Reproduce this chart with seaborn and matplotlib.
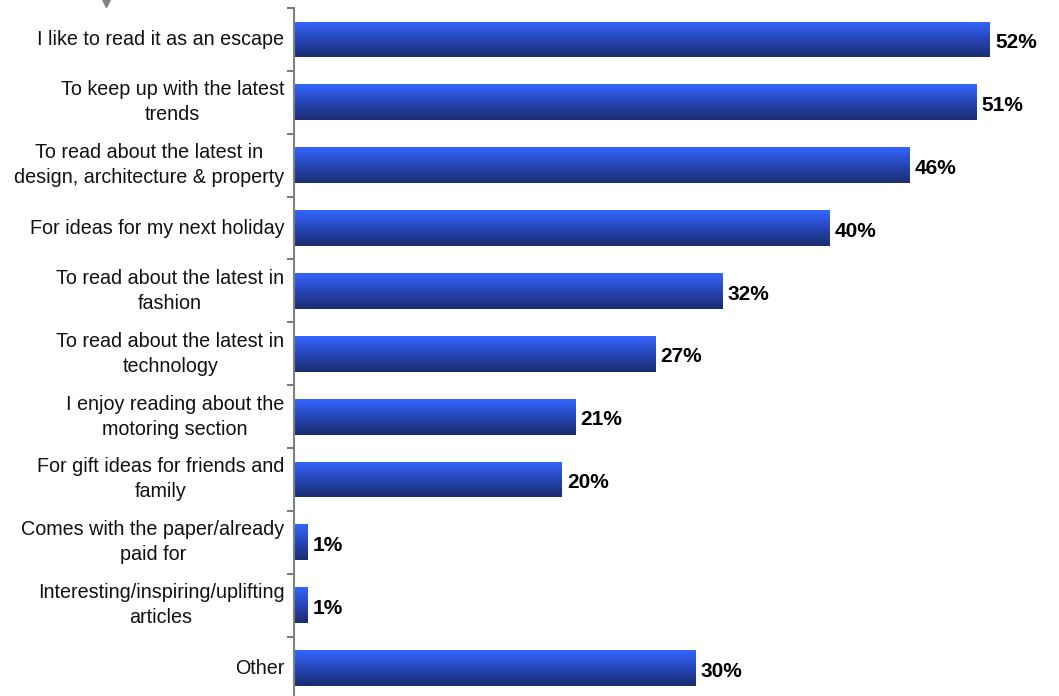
import numpy as np
import pandas as pd
import matplotlib
matplotlib.use("Agg")
import matplotlib.pyplot as plt
import seaborn as sns
from matplotlib.colors import LinearSegmentedColormap
from matplotlib.ticker import FixedLocator
from matplotlib.lines import Line2D

categories = [
    "I like to read it as an escape",
    "To keep up with the latest\ntrends",
    "To read about the latest in\ndesign, architecture & property",
    "For ideas for my next holiday",
    "To read about the latest in\nfashion",
    "To read about the latest in\ntechnology",
    "I enjoy reading about the\nmotoring section",
    "For gift ideas for friends and\nfamily",
    "Comes with the paper/already\npaid for",
    "Interesting/inspiring/uplifting\narticles",
    "Other",
]
values = [52, 51, 46, 40, 32, 27, 21, 20, 1, 1, 30]

df = pd.DataFrame({"reason": categories, "pct": values})

sns.set_theme(style="white")
plt.rcParams["font.family"] = ["Liberation Sans", "DejaVu Sans"]

fig = plt.figure(figsize=(10.59, 6.96), dpi=100)
ax = fig.add_axes([294 / 1059, -3.5 / 696, 803 / 1059, 691.5 / 696])

sns.barplot(data=df, x="pct", y="reason", order=categories, color="#3366ff",
            width=0.57, ax=ax, orient="h")

# vertical gradient fill inside each bar: bright blue on top, navy at the bottom
grad = LinearSegmentedColormap.from_list("bar", ["#1a2d70", "#2646b8", "#3366ff"])
g = np.linspace(0, 1, 256).reshape(-1, 1)
for patch in list(ax.patches):
    x0, y0 = patch.get_x(), patch.get_y()
    w, h = patch.get_width(), patch.get_height()
    im = ax.imshow(g, cmap=grad, aspect="auto", origin="lower",
                   extent=[x0, x0 + w, y0 + h, y0], zorder=patch.get_zorder() + 0.1,
                   interpolation="bilinear")
    im.set_clip_path(patch)
    patch.set_edgecolor("none")
ax.set_xlim(0, 60)
ax.set_ylim(len(categories) - 0.5, -0.5)

for i, v in enumerate(values):
    ax.text(v + 0.4, i + 0.05, f"{v}%", va="center", ha="left",
            fontsize=15, fontweight="bold", color="black")

ax.set_xlabel("")
ax.set_ylabel("")
ax.set_xticks([])

for side in ("top", "right", "bottom"):
    ax.spines[side].set_visible(False)
ax.spines["left"].set_color("#808080")
ax.spines["left"].set_linewidth(1.5)

ax.set_yticks(range(len(categories)))
ax.set_yticklabels(categories, multialignment="center", linespacing=1.4,
                   fontsize=14.2, color="#111111", va="center")
ax.yaxis.set_minor_locator(FixedLocator(np.arange(-0.5, len(categories), 1.0)))
ax.tick_params(axis="y", which="minor", left=True, length=5, width=1.2,
               color="#606060", direction="out")
ax.tick_params(axis="y", which="major", left=False, length=0, pad=7)

# small grey marker in the top-left corner
fig.add_artist(Line2D([106 / 1059], [1 - (-1) / 696], marker="v", markersize=11,
                      color="#808080", transform=fig.transFigure, clip_on=False))

fig.savefig("out.png", dpi=100)
